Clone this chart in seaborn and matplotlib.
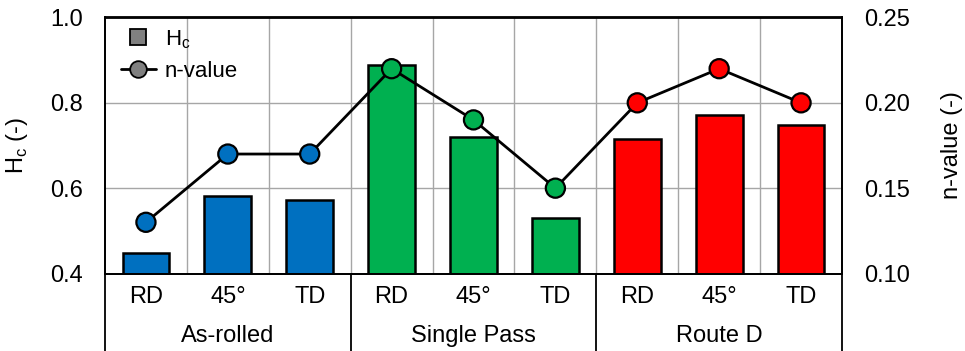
import numpy as np
import pandas as pd
import matplotlib
matplotlib.use("Agg")
import matplotlib.pyplot as plt
import matplotlib.transforms as mtransforms
from matplotlib.lines import Line2D
import seaborn as sns

# Processing routes and loading directions
groups = ["As-rolled", "Single Pass", "Route D"]
directions = ["RD", "45°", "TD"]
# Anisotropy parameter Hc per route / direction
hc_values = [0.448, 0.581, 0.573, 0.889, 0.721, 0.530, 0.716, 0.772, 0.747]
# Strain-hardening exponent per route / direction
n_values = [0.13, 0.17, 0.17, 0.22, 0.19, 0.15, 0.20, 0.22, 0.20]
group_colors = ["#0070C0", "#00B050", "#FF0000"]

sns.set_style("white")
plt.rcParams["font.family"] = ["Liberation Sans", "DejaVu Sans"]
plt.rcParams["mathtext.fontset"] = "custom"
plt.rcParams["mathtext.rm"] = "Liberation Sans"
for key in ["text.color", "axes.labelcolor", "xtick.color", "ytick.color"]:
    plt.rcParams[key] = "black"

df = pd.DataFrame({
    "group": np.repeat(groups, len(directions)),
    "direction": directions * len(groups),
    "Hc": hc_values,
    "n": n_values,
})
df["key"] = df["group"] + " " + df["direction"]
df["pos"] = np.arange(len(df))
palette = dict(zip(groups, group_colors))

fig = plt.figure(figsize=(9.65, 3.51), dpi=100)
W, H = 965, 351
ax = fig.add_axes([105 / W, 1 - 273.5 / H, (842 - 105) / W, (273.5 - 17.5) / H])

sns.barplot(data=df, x="key", y="Hc", hue="group", palette=palette, dodge=False,
            saturation=1, width=0.57, edgecolor="black", linewidth=1.8,
            legend=False, ax=ax, zorder=2)
ax.set_ylim(0.4, 1.0)
ax.set_xlim(-0.5, len(df) - 0.5)
ax.set_yticks([0.4, 0.6, 0.8, 1.0])
ax.set_yticklabels(["0.4", "0.6", "0.8", "1.0"])
ax.set_xticks(df["pos"])
ax.set_xticklabels(df["direction"])
ax.set_xlabel("")
ax.set_ylabel(r"H$_\mathregular{c}$ (-)", fontsize=17, labelpad=14)
ax.tick_params(axis="both", length=0, labelsize=17)
ax.tick_params(axis="y", pad=16)
ax.tick_params(axis="x", pad=9)

# grid: horizontal lines plus category boundaries
ax.set_axisbelow(True)
for y in [0.6, 0.8]:
    ax.axhline(y, color="#A6A6A6", lw=1.0, zorder=0)
for x in np.arange(0.5, len(df) - 0.5, 1.0):
    ax.axvline(x, color="#A6A6A6", lw=1.0, zorder=0)

for sp in ax.spines.values():
    sp.set_color("black")
    sp.set_linewidth(1.3)

# secondary axis: n-value
ax2 = ax.twinx()
sns.lineplot(x=df["pos"], y=df["n"], color="black", lw=2.0, ax=ax2, zorder=3)
sns.scatterplot(x=df["pos"], y=df["n"], hue=df["group"], palette=palette, s=190,
                edgecolor="black", linewidth=1.6, legend=False, ax=ax2, zorder=4)
ax2.set_ylim(0.10, 0.25)
ax2.set_yticks([0.10, 0.15, 0.20, 0.25])
ax2.set_yticklabels(["0.10", "0.15", "0.20", "0.25"])
ax2.set_xlim(-0.5, len(df) - 0.5)
ax2.set_ylabel("n-value (-)", fontsize=17, labelpad=22)
ax2.set_xlabel("")
ax2.tick_params(axis="y", length=0, labelsize=17, pad=16)
for sp in ax2.spines.values():
    sp.set_color("black")
    sp.set_linewidth(1.3)

# group labels and separators beneath the axis
trans = mtransforms.blended_transform_factory(ax.transData, ax.transAxes)
for i, g in enumerate(groups):
    ax.text(i * 3 + 1, -0.245, g, transform=trans, ha="center", va="center",
            fontsize=17)
for x in [-0.5, 2.5, 5.5, 8.5]:
    ax.add_line(Line2D([x, x], [0, -0.35], transform=trans, color="black",
                       lw=1.3, clip_on=False))

handles = [
    Line2D([], [], marker="s", color="#808080", markeredgecolor="black",
           markeredgewidth=1.3, linestyle="none", markersize=12),
    Line2D([], [], marker="o", color="black", markerfacecolor="#808080",
           markeredgecolor="black", markeredgewidth=1.3, lw=2, markersize=12),
]
ax2.legend(handles, [r"H$_\mathregular{c}$", "n-value"], loc="upper left",
           frameon=False, fontsize=16, handlelength=1.6, handletextpad=0.4,
           borderaxespad=0.3, labelspacing=0.45, bbox_to_anchor=(0.0, 1.02))

fig.savefig("out.png", dpi=100)
